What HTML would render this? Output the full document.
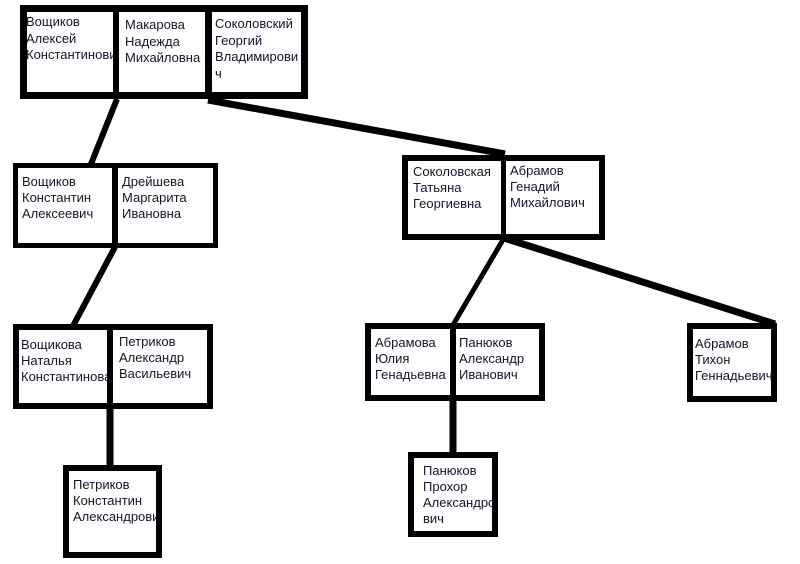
<!DOCTYPE html>
<html><head><meta charset="utf-8">
<style>
html,body{margin:0;padding:0;background:#fff;}
#c{position:relative;width:800px;height:564px;overflow:hidden;background:#fff;}
svg{position:absolute;left:0;top:0;}
.t{position:absolute;font-family:"Liberation Sans","DejaVu Sans",sans-serif;font-size:13px;line-height:16px;color:#15152a;white-space:nowrap;overflow:hidden;}
</style></head><body>
<div id="c">
<svg width="800" height="564" viewBox="0 0 800 564">
<g stroke="#000" fill="none" stroke-linecap="butt">
<line x1="117" y1="99" x2="91" y2="164" stroke-width="6"/>
<line x1="208" y1="100" x2="505" y2="154" stroke-width="7"/>
<line x1="115" y1="247" x2="73" y2="326" stroke-width="6"/>
<line x1="110" y1="406" x2="110" y2="466" stroke-width="7"/>
<line x1="504" y1="238" x2="453" y2="325" stroke-width="5"/>
<line x1="504" y1="238" x2="775" y2="324" stroke-width="7"/>
<line x1="453" y1="399" x2="453" y2="454" stroke-width="7"/>
<rect x="23.5" y="8.5" width="281" height="87" stroke-width="7" fill="#fff"/>
<line x1="116" y1="8" x2="116" y2="96" stroke-width="6"/>
<line x1="208.5" y1="8" x2="208.5" y2="96" stroke-width="7"/>
<rect x="15.5" y="165.5" width="200" height="80" stroke-width="5" fill="#fff"/>
<line x1="115" y1="165" x2="115" y2="246" stroke-width="6"/>
<rect x="405" y="158" width="197" height="79" stroke-width="6" fill="#fff"/>
<line x1="503.5" y1="157" x2="503.5" y2="238" stroke-width="5"/>
<rect x="16" y="327" width="194" height="79" stroke-width="6" fill="#fff"/>
<line x1="110" y1="327" x2="110" y2="406" stroke-width="6"/>
<rect x="66" y="468" width="93" height="87" stroke-width="6" fill="#fff"/>
<rect x="368" y="326" width="174" height="72" stroke-width="6" fill="#fff"/>
<line x1="453" y1="326" x2="453" y2="398" stroke-width="6"/>
<rect x="411" y="455" width="84" height="79" stroke-width="6" fill="#fff"/>
<rect x="690" y="326" width="84" height="73" stroke-width="6" fill="#fff"/>
</g>
</svg>

<div class="t" style="left:26px;top:14px;width:87px;line-height:16.5px;">Вощиков<br>Алексей<br>Константинович</div>
<div class="t" style="left:125px;top:17px;width:80px;line-height:16.5px;">Макарова<br>Надежда<br>Михайловна</div>
<div class="t" style="left:215px;top:16px;width:86px;line-height:16.5px;">Соколовский<br>Георгий<br>Владимирови<br>ч</div>

<div class="t" style="left:22px;top:174px;width:90px;">Вощиков<br>Константин<br>Алексеевич</div>
<div class="t" style="left:122px;top:174px;width:90px;">Дрейшева<br>Маргарита<br>Ивановна</div>

<div class="t" style="left:413px;top:164px;width:87px;">Соколовская<br>Татьяна<br>Георгиевна</div>
<div class="t" style="left:510px;top:163px;width:88px;">Абрамов<br>Генадий<br>Михайлович</div>

<div class="t" style="left:21px;top:337px;width:86px;">Вощикова<br>Наталья<br>Константинова</div>
<div class="t" style="left:119px;top:334px;width:88px;">Петриков<br>Александр<br>Васильевич</div>

<div class="t" style="left:73px;top:477px;width:83px;">Петриков<br>Константин<br>Александрович</div>

<div class="t" style="left:375px;top:335px;width:75px;">Абрамова<br>Юлия<br>Генадьевна</div>
<div class="t" style="left:459px;top:335px;width:80px;">Панюков<br>Александр<br>Иванович</div>

<div class="t" style="left:423px;top:463px;width:69px;">Панюков<br>Прохор<br>Александро<br>вич</div>

<div class="t" style="left:695px;top:336px;width:77px;">Абрамов<br>Тихон<br>Геннадьевич</div>
</div>
</body></html>
